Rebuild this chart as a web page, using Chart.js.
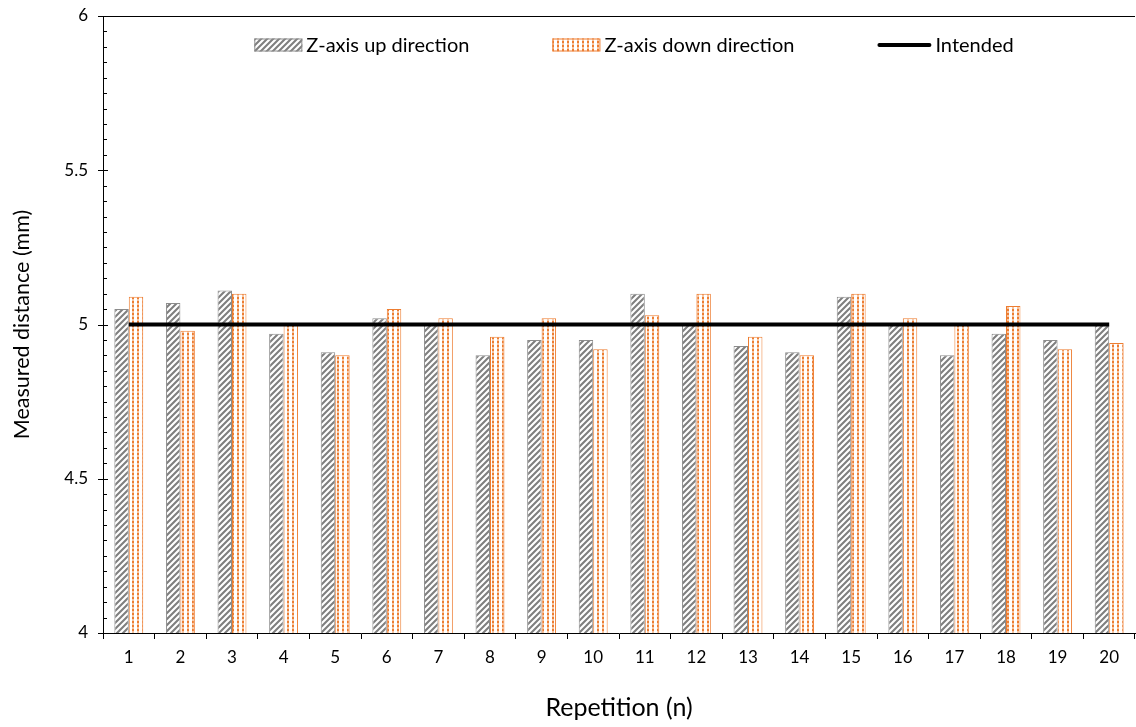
<!DOCTYPE html>
<html>
<head>
<meta charset="utf-8">
<script src="https://cdn.jsdelivr.net/npm/chart.js@4.4.1/dist/chart.umd.min.js"></script>
<style>
  html, body { margin: 0; padding: 0; background: #ffffff; }
  canvas { display: block; }
</style>
</head>
<body>
<canvas id="chart" width="1136" height="727"></canvas>
<script>
// Repetition index and measured distances (mm)
const repetitions = ['1','2','3','4','5','6','7','8','9','10','11','12','13','14','15','16','17','18','19','20'];
const upDirection = [5.05, 5.07, 5.11, 4.97, 4.91, 5.02, 5.00, 4.90, 4.95, 4.95, 5.10, 5.00, 4.93, 4.91, 5.09, 5.00, 4.90, 4.97, 4.95, 5.00];
const downDirection = [5.09, 4.98, 5.10, 5.00, 4.90, 5.05, 5.02, 4.96, 5.02, 4.92, 5.03, 5.10, 4.96, 4.90, 5.10, 5.02, 5.00, 5.06, 4.92, 4.94];
const intended = [5, 5, 5, 5, 5, 5, 5, 5, 5, 5, 5, 5, 5, 5, 5, 5, 5, 5, 5, 5];
const yTickValues = [4, 4.5, 5, 5.5, 6];
const yTickLabels = ['4', '4.5', '5', '5.5', '6'];
const seriesNames = ['Z-axis up direction', 'Z-axis down direction', 'Intended'];
const axisTitles = { x: 'Repetition (n)', y: 'Measured distance (mm)' };

const FONT = 'Lato, "Open Sans", sans-serif';
const GRAY = '#7f7f7f';
const ORANGE = '#ed7d31';

// Fill patterns: grey diagonal hatching and orange dotted grid
function hatchPattern() {
  const t = document.createElement('canvas');
  t.width = 6; t.height = 6;
  const g = t.getContext('2d');
  g.fillStyle = '#ffffff'; g.fillRect(0, 0, 6, 6);
  g.strokeStyle = GRAY; g.lineWidth = 2.1;
  g.beginPath();
  g.moveTo(-1, 7); g.lineTo(7, -1);
  g.moveTo(-1, 1); g.lineTo(1, -1);
  g.moveTo(5, 7); g.lineTo(7, 5);
  g.stroke();
  return g.createPattern(t, 'repeat');
}
function dotPattern() {
  const t = document.createElement('canvas');
  t.width = 5; t.height = 4;
  const g = t.getContext('2d');
  g.fillStyle = '#ffffff'; g.fillRect(0, 0, 5, 4);
  g.fillStyle = '#f6c4a0'; g.fillRect(2, 0, 2, 4);
  g.fillStyle = ORANGE; g.fillRect(2, 1, 2, 2);
  return g.createPattern(t, 'repeat');
}

// Axis decorations: crossing major ticks, inner minor ticks, top frame line
const axisDecor = {
  id: 'axisDecor',
  afterDraw(chart) {
    const { ctx, chartArea: a } = chart;
    const y = chart.scales.y;
    ctx.save();
    ctx.strokeStyle = '#000000';
    ctx.lineWidth = 1;
    ctx.beginPath();
    for (let k = 0; k <= 40; k++) {
      const v = 4 + k * 0.05;
      const py = Math.round(y.getPixelForValue(v)) + 0.5;
      if (k % 10 === 0) {
        ctx.moveTo(a.left - 5, py); ctx.lineTo(a.left + 5, py);
      } else {
        ctx.moveTo(a.left, py); ctx.lineTo(a.left + 4, py);
      }
    }
    const top = Math.round(a.top) + 0.5;
    ctx.moveTo(a.left, top); ctx.lineTo(a.right, top);
    ctx.stroke();
    ctx.restore();
  }
};

// Legend drawn inside the plot area along the top
const insideLegend = {
  id: 'insideLegend',
  afterDraw(chart) {
    const ctx = chart.ctx;
    ctx.save();
    ctx.font = '20px ' + FONT;
    ctx.textBaseline = 'middle';
    const gapText = 4, gapItem = 83, boxW = 48, boxH = 13, lineW = 54;
    const items = chart.data.datasets.map(ds => ({
      ds, swatch: ds.type === 'line' ? lineW : boxW, text: ctx.measureText(ds.label).width
    }));
    const total = items.reduce((s, it) => s + it.swatch + gapText + it.text, 0) + gapItem * (items.length - 1);
    let x = 634 - total / 2;
    const cy = 45;
    items.forEach(it => {
      if (it.ds.type === 'line') {
        ctx.strokeStyle = it.ds.borderColor;
        ctx.lineWidth = 4;
        ctx.lineCap = 'round';
        ctx.beginPath();
        ctx.moveTo(x + 2, cy); ctx.lineTo(x + it.swatch - 2, cy);
        ctx.stroke();
      } else {
        ctx.fillStyle = it.ds.backgroundColor;
        ctx.fillRect(x, cy - boxH / 2, boxW, boxH);
        ctx.strokeStyle = it.ds.borderColor;
        ctx.lineWidth = 1;
        ctx.strokeRect(x + 0.5, cy - boxH / 2 + 0.5, boxW - 1, boxH - 1);
      }
      x += it.swatch + gapText;
      ctx.fillStyle = '#000000';
      ctx.fillText(it.ds.label, x, cy + 1);
      x += it.text + gapItem;
    });
    ctx.restore();
  }
};

new Chart(document.getElementById('chart'), {
  data: {
    labels: repetitions,
    datasets: [
      {
        type: 'bar', label: seriesNames[0], data: upDirection,
        backgroundColor: hatchPattern(), borderColor: '#8c8c8c', borderWidth: 1,
        categoryPercentage: 0.56, barPercentage: 1.0, order: 2
      },
      {
        type: 'bar', label: seriesNames[1], data: downDirection,
        backgroundColor: dotPattern(), borderColor: ORANGE, borderWidth: 1,
        categoryPercentage: 0.56, barPercentage: 1.0, order: 2
      },
      {
        type: 'line', label: seriesNames[2], data: intended,
        borderColor: '#000000', borderWidth: 4, pointRadius: 0, fill: false, order: 1
      }
    ]
  },
  options: {
    responsive: false,
    animation: false,
    devicePixelRatio: 1,
    layout: { padding: { left: 0, top: 16, right: 1, bottom: 0 } },
    plugins: { legend: { display: false }, tooltip: { enabled: false } },
    scales: {
      x: {
        offset: true,
        grid: { display: true, drawOnChartArea: false, drawTicks: true, tickLength: 6, color: '#000000', offset: true },
        border: { display: true, color: '#000000', width: 1 },
        ticks: { color: '#000000', font: { family: FONT, size: 17 }, padding: 8, maxRotation: 0 },
        title: { display: true, text: axisTitles.x, color: '#000000', font: { family: FONT, size: 25 }, padding: { top: 4, bottom: 4 } },
        afterFit(s) { s.height = 94; s.paddingLeft = 0; s.paddingRight = 0; }
      },
      y: {
        min: 4, max: 6,
        afterBuildTicks(s) { s.ticks = yTickValues.map(v => ({ value: v })); },
        grid: { display: true, drawOnChartArea: false, drawTicks: false },
        border: { display: true, color: '#000000', width: 1 },
        ticks: {
          color: '#000000', font: { family: FONT, size: 17 }, padding: 15,
          callback(value, index) { return yTickLabels[index]; }
        },
        title: { display: true, text: axisTitles.y, color: '#000000', font: { family: FONT, size: 21.5 }, padding: { top: 9, bottom: 9 } },
        afterFit(s) { s.width = 103; s.paddingTop = 0; s.paddingBottom = 0; }
      }
    }
  },
  plugins: [axisDecor, insideLegend]
});
</script>
</body>
</html>
